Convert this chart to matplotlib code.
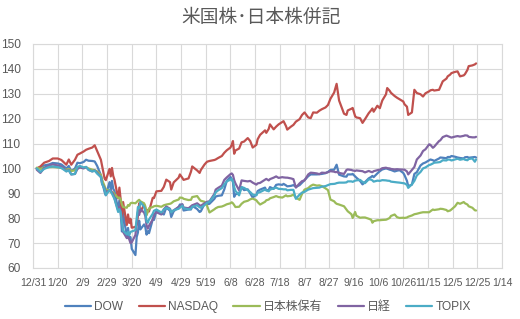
import matplotlib
matplotlib.use("Agg")
import matplotlib.pyplot as plt
import matplotlib.dates as mdates
import pandas as pd

# sampled trading days (2020) and index values (start = 100)
dates = [
    "01-03", "01-06", "01-09", "01-13", "01-16", "01-20", "01-23", "01-27", "01-29", "01-31",
    "02-03", "02-05", "02-07", "02-10", "02-12", "02-14", "02-17", "02-19", "02-21", "02-24",
    "02-25", "02-27", "02-28", "03-02", "03-03", "03-04", "03-05", "03-06", "03-09", "03-10",
    "03-11", "03-12", "03-13", "03-16", "03-17", "03-18", "03-19", "03-20", "03-23", "03-24",
    "03-25", "03-26", "03-27", "03-30", "03-31", "04-01", "04-02", "04-03", "04-06", "04-07",
    "04-09", "04-13", "04-15", "04-17", "04-20", "04-21", "04-23", "04-27", "04-28", "04-30",
    "05-01", "05-05", "05-07", "05-08", "05-12", "05-14", "05-15", "05-18", "05-20", "05-22",
    "05-26", "05-27", "05-29", "06-01", "06-03", "06-05", "06-08", "06-09", "06-10", "06-11",
    "06-12", "06-15", "06-17", "06-19", "06-22", "06-24", "06-26", "06-29", "06-30", "07-02",
    "07-06", "07-07", "07-09", "07-10", "07-13", "07-15", "07-17", "07-20", "07-21", "07-23",
    "07-24", "07-27", "07-29", "07-31", "08-03", "08-05", "08-07", "08-10", "08-12", "08-14",
    "08-17", "08-19", "08-21", "08-24", "08-26", "08-28", "08-31", "09-01", "09-02", "09-04",
    "09-08", "09-10", "09-11", "09-14", "09-15", "09-17", "09-18", "09-21", "09-23", "09-25",
    "09-28", "09-30", "10-01", "10-02", "10-05", "10-07", "10-09", "10-12", "10-13", "10-15",
    "10-16", "10-19", "10-21", "10-23", "10-26", "10-27", "10-29", "10-30", "11-02", "11-04",
    "11-06", "11-09", "11-11", "11-13", "11-16", "11-17", "11-19", "11-20", "11-24", "11-25",
    "11-27", "11-30", "12-01", "12-03", "12-04", "12-07", "12-09", "12-11", "12-14", "12-15",
    "12-17", "12-18", "12-21", "12-23", "12-24",
]

dow = [
    100.0, 100.3, 101.2, 101.6, 102.2, 102.0, 101.6, 100.0, 101.0, 98.9,
    100.0, 102.3, 102.1, 102.6, 103.5, 103.1, 103.0, 102.8, 101.0, 97.3,
    94.9, 90.5, 89.2, 94.5, 91.5, 95.0, 91.8, 91.0, 83.5, 87.2,
    82.7, 74.7, 82.2, 72.5, 76.1, 71.9, 72.4, 67.7, 65.2, 72.5,
    74.2, 79.0, 75.5, 77.5, 76.5, 73.4, 74.8, 74.0, 79.5, 79.3,
    83.0, 82.0, 81.5, 84.3, 83.0, 80.5, 82.8, 84.5, 85.5, 85.5,
    83.1, 83.5, 83.5, 85.0, 83.7, 82.5, 82.8, 85.8, 85.6, 85.8,
    87.8, 88.7, 89.0, 89.2, 91.6, 95.0, 96.6, 95.6, 94.6, 88.6,
    89.6, 90.0, 92.5, 91.3, 91.6, 90.0, 88.3, 89.5, 90.9, 91.5,
    92.3, 91.2, 91.4, 92.5, 91.8, 93.4, 93.6, 93.4, 93.8, 93.2,
    92.8, 93.0, 93.3, 92.6, 93.3, 94.3, 95.3, 96.9, 97.6, 97.6,
    97.6, 97.7, 97.8, 98.1, 98.6, 99.4, 99.5, 100.5, 101.5, 97.5,
    96.8, 96.7, 97.6, 97.6, 97.8, 96.8, 96.3, 95.0, 93.6, 94.5,
    96.0, 96.6, 97.0, 96.5, 98.0, 98.9, 99.6, 100.0, 99.9, 99.5,
    99.4, 98.8, 99.1, 99.3, 98.2, 97.3, 95.0, 92.9, 93.5, 97.8,
    98.5, 101.2, 102.0, 102.4, 103.3, 103.6, 103.3, 103.0, 104.0, 104.4,
    104.3, 104.1, 104.6, 104.6, 105.0, 104.7, 104.4, 104.2, 104.0, 104.5,
    104.6, 104.3, 104.5, 104.6, 104.4,
]

nasdaq = [
    100.0, 100.8, 102.3, 103.0, 104.0, 104.0, 103.4, 101.5, 103.6, 101.5,
    103.5, 105.5, 106.0, 106.8, 107.5, 107.9, 108.4, 109.3, 107.0, 103.5,
    101.0, 96.0, 95.3, 99.8, 96.8, 100.2, 97.0, 95.5, 88.0, 92.3,
    87.7, 79.6, 86.5, 77.3, 81.5, 78.1, 79.8, 76.2, 76.5, 77.5,
    81.0, 86.0, 82.5, 85.5, 84.2, 82.0, 83.3, 82.7, 88.2, 88.1,
    90.8, 91.0, 92.6, 95.5, 94.5, 91.5, 94.4, 96.3, 97.6, 96.2,
    95.4, 96.0, 98.7, 100.8, 99.2, 98.2, 99.4, 101.6, 102.7, 103.0,
    103.4, 103.6, 104.2, 105.0, 106.3, 107.3, 108.4, 109.5, 111.0, 105.9,
    107.2, 108.0, 110.5, 110.8, 112.2, 111.0, 108.4, 109.5, 111.7, 113.5,
    115.3, 114.3, 115.9, 117.7, 115.7, 116.8, 117.7, 118.7, 119.0, 117.0,
    115.6, 116.8, 117.5, 118.8, 119.8, 121.5, 122.5, 120.5, 120.2, 122.5,
    122.4, 123.2, 123.8, 124.5, 125.5, 128.0, 130.5, 132.2, 134.0, 127.3,
    122.0, 121.5, 123.3, 124.0, 124.3, 121.0, 120.5, 120.2, 118.3, 119.8,
    122.2, 123.4, 124.1, 122.8, 125.2, 124.2, 127.3, 129.8, 132.3, 131.2,
    130.4, 129.1, 128.4, 127.8, 126.9, 125.8, 124.8, 121.5, 122.5, 131.6,
    130.3, 129.8, 128.9, 130.2, 131.0, 131.4, 131.6, 131.3, 131.6, 132.7,
    135.0, 136.1, 137.0, 137.7, 138.3, 138.8, 139.0, 137.0, 137.4, 137.9,
    139.6, 141.1, 141.4, 141.8, 142.2,
]

portfolio = [
    100.3, 99.8, 100.4, 100.5, 100.6, 100.4, 100.2, 99.4, 99.8, 99.0,
    99.2, 100.5, 100.6, 100.2, 100.4, 100.0, 99.5, 99.3, 98.8, 97.4,
    95.4, 92.9, 91.5, 91.2, 90.5, 90.3, 90.4, 89.6, 88.2, 88.3,
    87.6, 85.6, 84.5, 84.2, 85.3, 85.0, 86.0, 86.2, 86.0, 86.5,
    87.0, 87.4, 86.8, 86.0, 84.8, 81.2, 82.5, 84.0, 84.5, 84.8,
    85.0, 84.6, 85.2, 85.5, 85.8, 86.0, 86.8, 87.5, 88.3, 88.2,
    87.8, 87.3, 87.4, 88.5, 88.9, 87.5, 87.0, 86.6, 85.0, 82.3,
    83.6, 84.0, 84.5, 84.7, 85.1, 85.6, 86.0, 86.4, 86.0, 85.3,
    84.5, 84.6, 85.8, 86.6, 87.0, 87.6, 87.9, 87.2, 86.5, 85.5,
    86.6, 87.2, 87.5, 88.0, 88.5, 88.9, 88.5, 88.3, 88.6, 89.2,
    88.8, 89.0, 89.5, 88.2, 87.4, 89.8, 91.5, 92.1, 93.0, 93.5,
    93.1, 93.2, 92.9, 92.0, 91.3, 87.5, 86.8, 86.2, 85.8, 85.5,
    84.8, 83.5, 82.8, 81.6, 80.1, 82.5, 81.0, 80.2, 80.3, 80.3,
    79.8, 79.4, 78.2, 78.8, 79.2, 79.2, 79.3, 79.4, 79.6, 80.1,
    80.9, 81.5, 80.4, 80.1, 80.2, 80.1, 80.3, 80.6, 81.1, 81.6,
    81.8, 82.2, 82.4, 82.4, 82.4, 82.8, 83.5, 83.3, 83.6, 83.8,
    83.7, 83.3, 82.8, 83.1, 83.5, 84.8, 86.2, 85.8, 86.5, 86.0,
    85.5, 84.8, 84.2, 83.2, 83.1,
]

nikkei = [
    99.5, 98.2, 100.2, 101.2, 101.6, 101.2, 100.8, 98.9, 99.3, 97.6,
    97.8, 99.8, 100.4, 100.0, 100.6, 99.4, 98.8, 99.2, 98.3, 96.5,
    93.8, 92.0, 90.6, 91.0, 91.3, 90.4, 89.7, 88.0, 83.2, 84.6,
    83.1, 79.8, 74.5, 72.0, 72.5, 71.5, 70.0, 70.3, 73.3, 78.0,
    82.6, 81.3, 83.6, 82.3, 80.9, 77.2, 75.8, 77.0, 79.5, 81.6,
    82.4, 81.5, 83.6, 84.7, 83.8, 82.3, 83.2, 84.5, 84.7, 85.6,
    84.3, 84.0, 84.8, 85.2, 86.0, 85.2, 85.0, 86.0, 86.6, 86.8,
    89.8, 91.5, 92.2, 93.1, 95.4, 96.4, 97.7, 98.0, 97.4, 95.3,
    94.0, 91.2, 95.2, 95.0, 94.8, 95.0, 94.3, 93.5, 94.0, 94.2,
    95.5, 95.8, 95.2, 95.7, 96.3, 96.8, 96.2, 96.5, 96.4, 96.3,
    96.3, 96.0, 95.7, 92.3, 94.0, 94.9, 95.2, 97.6, 98.3, 98.2,
    98.0, 97.7, 98.3, 98.2, 98.5, 98.9, 98.7, 98.5, 98.6, 98.2,
    97.8, 99.4, 99.6, 99.4, 99.2, 99.0, 99.2, 99.0, 98.9, 98.4,
    99.0, 98.6, 98.5, 98.9, 99.3, 99.5, 100.1, 100.3, 100.1, 100.0,
    99.8, 99.6, 99.7, 99.6, 99.5, 99.5, 98.8, 97.6, 99.4, 100.6,
    103.6, 105.2, 107.0, 107.7, 109.7, 109.5, 108.3, 108.7, 111.0, 111.3,
    112.6, 113.2, 113.0, 112.6, 112.4, 112.8, 113.0, 112.8, 113.1, 113.3,
    113.2, 112.7, 112.5, 112.5, 112.7,
]

topix = [
    100.0, 98.6, 99.8, 100.6, 100.8, 100.5, 100.2, 98.8, 99.2, 97.6,
    97.8, 100.6, 101.0, 100.4, 100.6, 99.5, 98.8, 99.1, 97.9, 96.6,
    93.8, 91.6, 89.3, 91.3, 90.8, 89.8, 88.9, 87.8, 82.5, 83.6,
    82.4, 78.4, 75.0, 73.5, 74.5, 73.2, 74.5, 74.7, 75.2, 80.0,
    84.5, 84.0, 86.5, 84.6, 82.8, 78.7, 78.2, 79.5, 81.8, 83.0,
    83.5, 82.3, 83.4, 84.2, 83.6, 82.3, 83.2, 83.8, 84.2, 85.1,
    84.0, 83.6, 83.8, 84.6, 85.2, 84.4, 84.2, 85.3, 86.2, 86.6,
    89.2, 90.4, 91.2, 92.1, 93.6, 94.8, 95.5, 95.8, 94.8, 92.5,
    91.0, 89.2, 92.5, 92.2, 91.3, 90.5, 89.5, 89.2, 90.2, 90.5,
    91.5, 91.2, 90.8, 91.5, 92.0, 92.3, 91.8, 91.7, 91.6, 91.6,
    91.2, 91.4, 91.4, 87.8, 89.5, 90.3, 90.6, 91.5, 91.8, 92.1,
    92.2, 92.3, 92.7, 92.9, 93.3, 93.7, 93.8, 93.9, 94.1, 94.3,
    94.3, 94.4, 94.8, 94.8, 94.6, 95.1, 95.2, 95.4, 94.6, 94.1,
    95.6, 95.5, 95.2, 94.7, 95.1, 95.0, 95.3, 95.2, 95.1, 95.0,
    94.7, 94.5, 94.4, 94.3, 94.1, 94.0, 93.4, 92.2, 93.6, 95.0,
    97.2, 98.6, 100.0, 100.4, 101.4, 101.5, 102.0, 102.3, 102.5, 102.6,
    103.3, 103.2, 103.6, 103.5, 103.2, 103.6, 103.9, 103.5, 103.8, 103.5,
    103.3, 103.8, 104.0, 102.7, 103.6,
]

series_names = ["DOW", "NASDAQ", "日本株保有", "日経", "TOPIX"]
colors = ["#4F81BD", "#C0504D", "#9BBB59", "#8064A2", "#4BACC6"]

x = pd.to_datetime(["2020-" + d for d in dates])
df = pd.DataFrame(
    {"DOW": dow, "NASDAQ": nasdaq, "日本株保有": portfolio, "日経": nikkei, "TOPIX": topix},
    index=x,
)

grey = "#595959"
grid = "#D9D9D9"

fig = plt.figure(figsize=(5.2, 3.19), dpi=100)
ax = fig.add_axes([33 / 520, 51 / 319, 469 / 520, 224 / 319])

for name, c in zip(series_names, colors):
    ax.plot(df.index, df[name], color=c, lw=1.6, label=name,
            solid_joinstyle="round", solid_capstyle="round")

start = pd.Timestamp("2019-12-31")
ticks = pd.date_range(start, periods=20, freq="20D")
ax.set_xlim(ticks[0], ticks[-1])
ax.set_xticks(ticks)
ax.set_xticklabels([f"{t.month}/{t.day}" for t in ticks])
ax.set_ylim(60, 150)
ax.set_yticks(range(60, 151, 10))

ax.grid(True, color=grid, lw=0.8)
ax.set_axisbelow(True)
for s in ax.spines.values():
    s.set_color(grid)
    s.set_linewidth(0.8)
ax.tick_params(axis="both", length=0, colors=grey)
ax.tick_params(axis="x", pad=7, labelsize=7.6)
ax.tick_params(axis="y", pad=9, labelsize=8.6)
for lab in ax.get_xticklabels() + ax.get_yticklabels():
    lab.set_family(["Liberation Sans", "DejaVu Sans"])

fig.text(0.502, 0.947, "米国株･日本株併記", ha="center", va="center",
         fontsize=13.5, color=grey, family=["Noto Sans CJK JP", "DejaVu Sans"])

leg = fig.legend(loc="center", bbox_to_anchor=(0.515, 0.038), ncol=5, frameon=False,
                 handlelength=2.2, handletextpad=0.25, columnspacing=1.3,
                 prop={"family": ["Liberation Sans", "Noto Sans CJK JP"], "size": 8.6})
for t in leg.get_texts():
    t.set_color(grey)

fig.savefig("out.png", dpi=100)
